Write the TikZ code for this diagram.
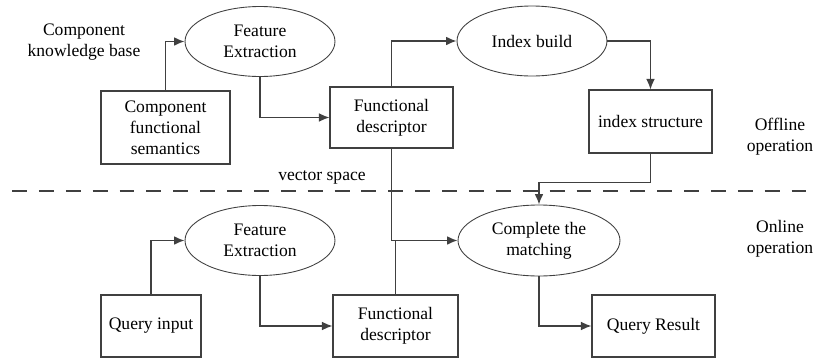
\documentclass[tikz,border=0pt]{standalone}
\usepackage{fontspec}
\setmainfont{Liberation Serif}
\usepackage{tikz}
\usetikzlibrary{
  arrows.meta,
  positioning,
  calc,
  shapes.geometric
}
\definecolor{linegray}{HTML}{404040}
\tikzset{
  box/.style   = {draw=linegray, line width=0.6pt, align=center, inner sep=2pt},
  oval/.style  = {ellipse, draw=linegray, line width=0.5pt, align=center, inner sep=0pt,
                  minimum width=3cm, minimum height=1.4cm},
  plain/.style = {align=center, inner sep=0pt},
  link/.style  = {draw=linegray, line width=0.8pt, -{Latex[length=6pt, width=5pt]}},
  joint/.style = {draw=linegray, line width=0.8pt},
  split/.style = {draw=linegray, line width=1.1pt, dash pattern=on 8.5pt off 6.8pt}
}

\begin{document}
\begin{tikzpicture}[x=0.02cm, y=-0.02cm]
  \useasboundingbox (0,0) rectangle (816,359);

  % Offline part
  \node [plain] (kbase) at (84, 42) {Component\\knowledge base};
  \node [box, minimum width=2.58cm, minimum height=1.46cm] (csem) at (165.5, 127.5) {Component\\functional\\semantics};
  \node [oval] (fext1) at (260, 41.5) {Feature\\Extraction};
  \node [box, minimum width=2.46cm, minimum height=1.22cm] (fdesc1) at (391.5, 117.5) {Functional\\descriptor};
  \node [oval] (ibuild) at (532, 41) {Index build};
  \node [box, minimum width=2.46cm, minimum height=1.26cm] (istruct) at (650.5, 121.5) {index structure};

  % Online part
  \node [box, minimum width=2cm, minimum height=1.24cm] (qinput) at (151, 326) {Query input};
  \node [oval] (fext2) at (260, 240.5) {Feature\\Extraction};
  \node [box, minimum width=2.5cm, minimum height=1.24cm] (fdesc2) at (395.5, 326) {Functional\\descriptor};
  \node [oval, minimum width=3.24cm, minimum height=1.42cm] (cmatch) at (539, 240.5) {Complete the\\matching};
  \node [box, minimum width=2.46cm, minimum height=1.24cm] (qresult) at (653.5, 326) {Query Result};

  % Side labels
  \node [plain] (vspace) at (322, 177) {vector space};
  \node [plain] (offline) at (780, 137) {Offline\\operation};
  \node [plain] (online) at (780, 239) {Online\\operation};

  % Split between the two stages
  \draw [split] (12, 191) -- (816, 191);

  % Links
  \draw [link] (csem.north) |- (fext1.west);
  \draw [link] (fext1.south) |- (fdesc1.west);
  \draw [link] (fdesc1.north) |- (ibuild.west);
  \draw [link] (ibuild.east) -| (istruct.north);
  \draw [link] (istruct.south) -- ++(0, 29) -| (cmatch.north);
  \draw [link] (fdesc1.south) |- (cmatch.west);
  \draw [joint] (fdesc2.north) -- (fdesc2.north |- cmatch.west);

  \draw [link] (qinput.north) |- (fext2.west);
  \draw [link] (fext2.south) |- (fdesc2.west);
  \draw [link] (cmatch.south) |- (qresult.west);
\end{tikzpicture}
\end{document}
